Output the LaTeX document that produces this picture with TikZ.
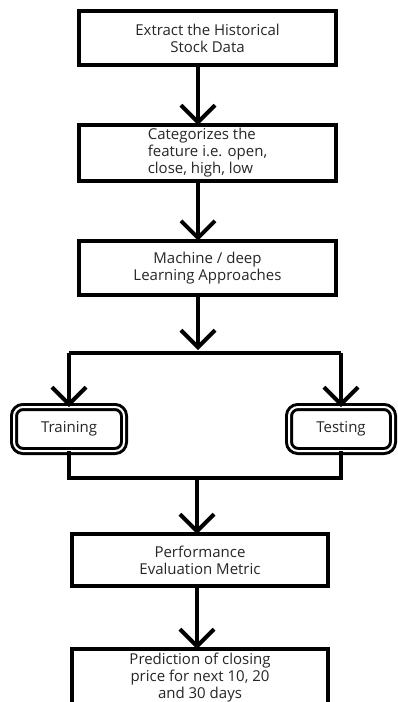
\documentclass[tikz,border=0pt]{standalone}
\usepackage{fontspec}
\setmainfont{Open Sans}
\usetikzlibrary{arrows.meta}
\usetikzlibrary{positioning}

\begin{document}
\begin{tikzpicture}[
	x=1pt, y=1pt,
	node distance=60pt,
	pile/.style={
		line width=4pt,
		-{Straight Barb[length=17pt,width=34pt]}
	},
	linie/.style={
		line width=4pt,
		line join=miter
	},
	kasten/.style={
		draw,
		line width=4pt,
		outer sep=0pt,
		minimum width=257pt,
		minimum height=54pt,
		align=center,
		text=black!85,
		font=\fontsize{15}{17}\selectfont
	},
	doppel/.style={
		draw,
		double,
		line width=3pt,
		double distance=2pt,
		rounded corners=9pt,
		outer sep=0pt,
		minimum height=44pt,
		text=black!85,
		font=\fontsize{15}{17}\selectfont
	}
]
\useasboundingbox (0,0) rectangle (398,-702);
\clip (0,0) rectangle (398,-702);

\node[kasten] (EXTRACT) at (207.5,-38) {Extract the Historical\\Stock Data};
\node[kasten, align=left] (CATEG) [below=of EXTRACT]
{Categorizes the\\feature i.e. open,\\close, high, low};
\node[kasten] (ML) [below=of CATEG] {Machine / deep\\Learning Approaches};

\node[doppel, minimum width=110pt] (TRAIN) at (69,-429) {Training};
\node[doppel, minimum width=104pt] (TEST) at (341,-429) {Testing};

\node[kasten, minimum width=256pt, minimum height=52pt] (PERF) at (200,-560)
{Performance\\Evaluation Metric};
\node[kasten, minimum width=256pt, minimum height=58pt] (PRED) [below=63pt of PERF]
{Prediction of closing\\price for next 10, 20\\and 30 days};

\coordinate (SPLIT) at (198,-353);
\coordinate (JOIN) at (197,-478);

\draw[pile] ([xshift=-9.5pt]EXTRACT.south) -- ([xshift=-9.5pt]CATEG.north);
\draw[pile] ([xshift=-9.5pt]CATEG.south) -- ([xshift=-9.5pt]ML.north);
\draw[pile, shorten >=3pt] ([xshift=-9.5pt]ML.south) -- (SPLIT);
\draw[linie] (TRAIN.north |- SPLIT) -- (TEST.north |- SPLIT);
\draw[pile] (TRAIN.north |- SPLIT) -- (TRAIN.north);
\draw[pile] (TEST.north |- SPLIT) -- (TEST.north);
\draw[linie] (TRAIN.south) |- (JOIN) -| (TEST.south);
\draw[pile] (JOIN) -- (JOIN |- PERF.north);
\draw[pile] ([xshift=-3pt]PERF.south) -- ([xshift=-3pt]PRED.north);

\end{tikzpicture}
\end{document}
